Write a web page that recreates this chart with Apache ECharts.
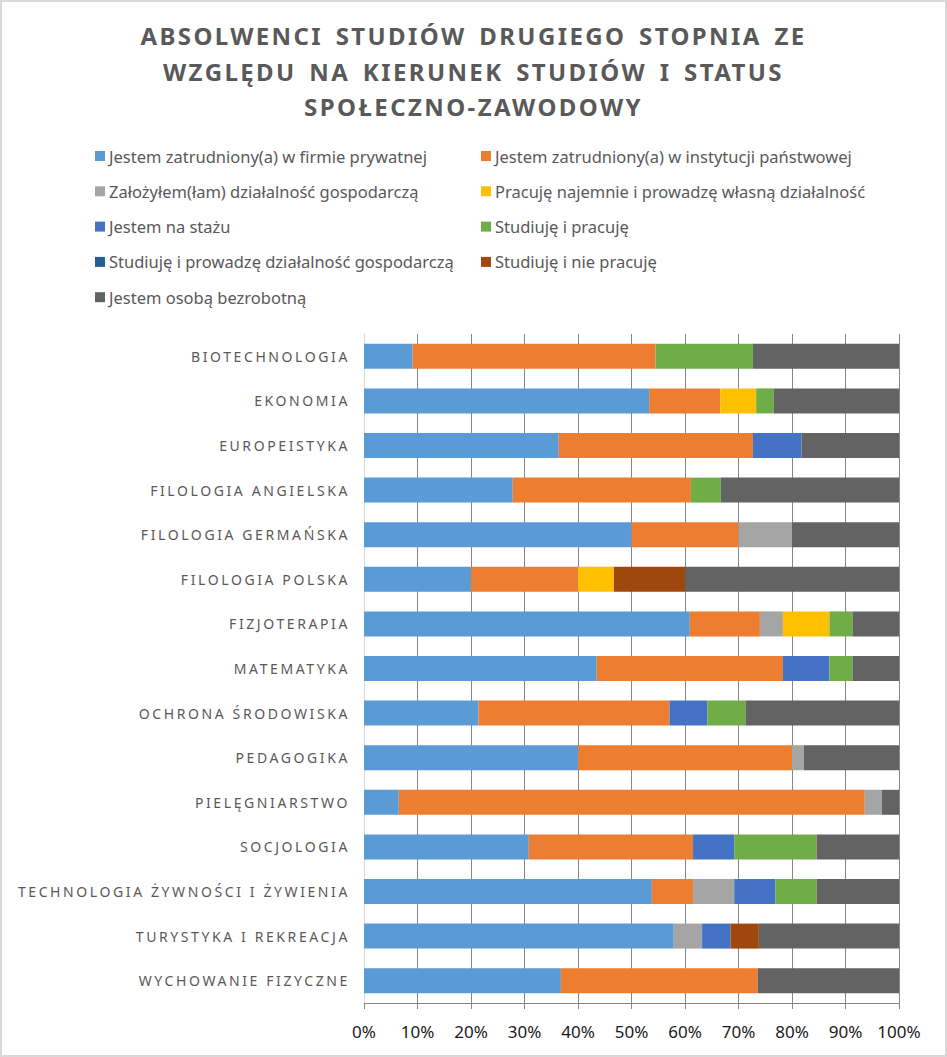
<!DOCTYPE html>
<html>
<head>
<meta charset="utf-8">
<script src="https://cdn.jsdelivr.net/npm/echarts@6/dist/echarts.min.js"></script>
<style>
  html, body { margin: 0; padding: 0; background: #fff; }
  #chart { width: 947px; height: 1057px; box-sizing: border-box; border: 2px solid #d9d9d9; }
  /* rozstrzelone litery w tytule i w nazwach kierunkow */
  #chart text[style*="24px"] { letter-spacing: 2.4px; word-spacing: 4px; }
  #chart text[style*="14px"] { letter-spacing: 2.6px; }
</style>
</head>
<body>
<div id="chart"></div>
<script>
var kierunki = [
  'BIOTECHNOLOGIA', 'EKONOMIA', 'EUROPEISTYKA', 'FILOLOGIA ANGIELSKA', 'FILOLOGIA GERMAŃSKA',
  'FILOLOGIA POLSKA', 'FIZJOTERAPIA', 'MATEMATYKA', 'OCHRONA ŚRODOWISKA', 'PEDAGOGIKA',
  'PIELĘGNIARSTWO', 'SOCJOLOGIA', 'TECHNOLOGIA ŻYWNOŚCI I ŻYWIENIA', 'TURYSTYKA I REKREACJA', 'WYCHOWANIE FIZYCZNE'
];

var statusy = [
  'Jestem zatrudniony(a) w firmie prywatnej',
  'Jestem zatrudniony(a) w instytucji państwowej',
  'Założyłem(łam) działalność gospodarczą',
  'Pracuję najemnie i prowadzę własną działalność',
  'Jestem na stażu',
  'Studiuję i pracuję',
  'Studiuję i prowadzę działalność gospodarczą',
  'Studiuję i nie pracuję',
  'Jestem osobą bezrobotną'
];

var kolory = ['#5b9bd5', '#ed7d31', '#a5a5a5', '#ffc000', '#4472c4', '#70ad47', '#255e91', '#9e480e', '#636363'];

// odsetki (%) dla kolejnych kierunkow
var firmaPrywatna   = [9.1, 53.3, 36.4, 27.8, 50, 20, 60.9, 43.5, 21.4, 40, 6.5, 30.8, 53.8, 57.9, 36.8];
var instytucjaPanst = [45.4, 13.3, 36.3, 33.3, 20, 20, 13.1, 34.8, 35.7, 40, 87.1, 30.7, 7.7, 0, 36.8];
var dzialalnosc     = [0, 0, 0, 0, 10, 0, 4.3, 0, 0, 2.2, 3.2, 0, 7.7, 5.3, 0];
var najemnieIDzial  = [0, 6.7, 0, 0, 0, 6.7, 8.7, 0, 0, 0, 0, 0, 0, 0, 0];
var staz            = [0, 0, 9.1, 0, 0, 0, 0, 8.7, 7.1, 0, 0, 7.7, 7.7, 5.3, 0];
var studiujePracuje = [18.2, 3.3, 0, 5.6, 0, 0, 4.3, 4.3, 7.1, 0, 0, 15.4, 7.7, 0, 0];
var studiujeDzial   = [0, 0, 0, 0, 0, 0, 0, 0, 0, 0, 0, 0, 0, 0, 0];
var studiujeNiePrac = [0, 0, 0, 0, 0, 13.3, 0, 0, 0, 0, 0, 0, 0, 5.3, 0];
var bezrobotny      = [27.3, 23.4, 18.2, 33.3, 20, 40, 8.7, 8.7, 28.7, 17.8, 3.2, 15.4, 15.4, 26.2, 26.4];

var wartosci = [firmaPrywatna, instytucjaPanst, dzialalnosc, najemnieIDzial, staz,
  studiujePracuje, studiujeDzial, studiujeNiePrac, bezrobotny];

var font = '"Noto Sans", "Open Sans", sans-serif';

var myChart = echarts.init(document.getElementById('chart'), null, { renderer: 'svg' });

var series = statusy.map(function (nazwa, i) {
  return {
    name: nazwa,
    type: 'bar',
    stack: 'razem',
    barWidth: 25,
    itemStyle: { color: kolory[i] },
    emphasis: { disabled: true },
    data: wartosci[i]
  };
});

var legendaStyl = {
  orient: 'vertical',
  top: 139,
  itemWidth: 10,
  itemHeight: 10,
  itemGap: 15.3,
  icon: 'rect',
  selectedMode: false,
  textStyle: { fontSize: 16.5, color: '#595959', fontFamily: font, lineHeight: 20, padding: [0, 0, 0, -1] }
};

var option = {
  backgroundColor: '#fff',
  animation: false,
  title: {
    text: 'ABSOLWENCI STUDIÓW DRUGIEGO STOPNIA ZE\nWZGLĘDU NA KIERUNEK STUDIÓW I STATUS\nSPOŁECZNO-ZAWODOWY',
    left: 'center',
    top: 11,
    textStyle: {
      fontSize: 24,
      fontWeight: 'bold',
      color: '#595959',
      fontFamily: font,
      lineHeight: 35.5
    }
  },
  legend: [
    Object.assign({ left: 88, data: [statusy[0], statusy[2], statusy[4], statusy[6], statusy[8]] }, legendaStyl),
    Object.assign({ left: 474, data: [statusy[1], statusy[3], statusy[5], statusy[7]] }, legendaStyl)
  ],
  grid: { left: 362, right: 46, top: 332, bottom: 52 },
  xAxis: {
    type: 'value',
    min: 0,
    max: 100,
    interval: 10,
    axisLine: { show: true, lineStyle: { color: '#868686', width: 1 } },
    axisTick: { show: true, length: 6, lineStyle: { color: '#868686' } },
    splitLine: { show: true, lineStyle: { color: '#868686', width: 1 } },
    axisLabel: {
      formatter: '{value}%',
      fontSize: 17,
      color: '#1a1a1a',
      fontFamily: font,
      margin: 20
    }
  },
  yAxis: {
    type: 'category',
    inverse: true,
    data: kierunki,
    axisLine: { show: true, lineStyle: { color: '#d9d9d9', width: 1 } },
    axisTick: { show: false },
    axisLabel: {
      fontSize: 14,
      color: '#595959',
      fontFamily: font,
      margin: 14
    }
  },
  series: series
};

myChart.setOption(option);
</script>
</body>
</html>
